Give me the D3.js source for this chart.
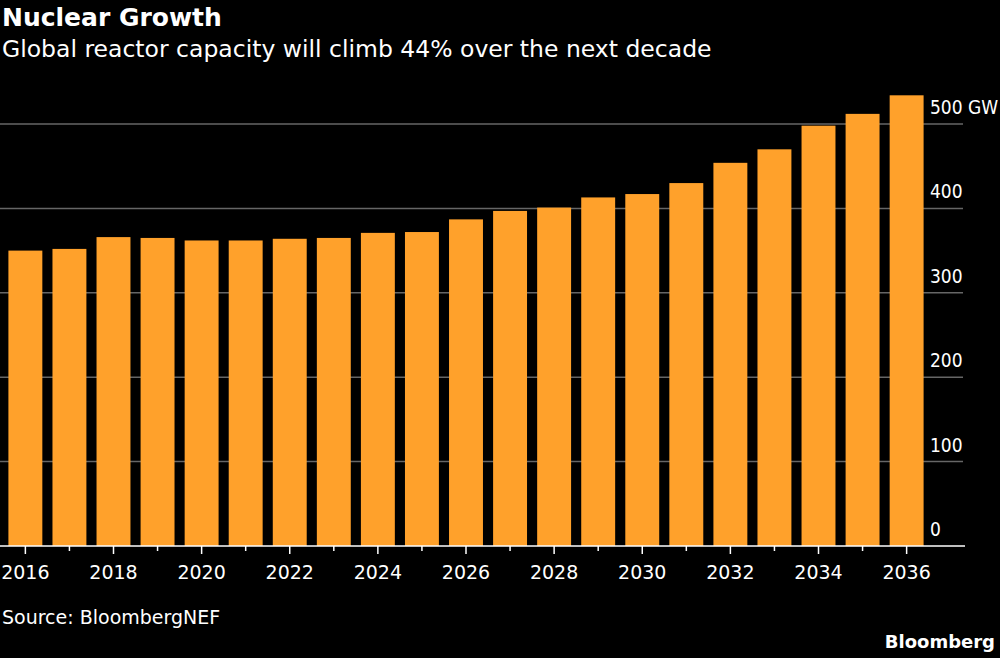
<!DOCTYPE html>
<html><head><meta charset="utf-8">
<script src="https://cdn.jsdelivr.net/npm/d3@7"></script>
<style>
body{margin:0;background:#000;}
text{font-family:"DejaVu Sans",sans-serif;fill:#fff;}
text.ylab{font-family:"DejaVu Sans Condensed","DejaVu Sans",sans-serif;}
</style></head>
<body>
<script>
const years = d3.range(2016, 2037);
const capacity = [350, 352, 366, 365, 362, 362, 364, 365, 371, 372, 387, 397, 401, 413, 417, 430, 454, 470, 498, 512, 534];
const yTicks = [0, 100, 200, 300, 400, 500];

const W = 1000, H = 658;
const svg = d3.select('body').append('svg').attr('width', W).attr('height', H);
svg.append('rect').attr('width', W).attr('height', H).attr('fill', '#000');

const x = d3.scaleBand().domain(years).range([4, 928]).paddingInner(0.23).paddingOuter(0.1);
const y = d3.scaleLinear().domain([0, 500]).range([546, 124]);

// gridlines
svg.selectAll('.grid').data(yTicks.slice(1)).join('line')
  .attr('x1', 0).attr('x2', 963)
  .attr('y1', d => y(d)).attr('y2', d => y(d))
  .attr('stroke', '#666').attr('stroke-width', 1.5);

svg.selectAll('.bar').data(capacity).join('rect')
  .attr('x', (d, i) => x(years[i]))
  .attr('width', x.bandwidth())
  .attr('y', d => y(d))
  .attr('height', d => y(0) - y(d))
  .attr('fill', '#ffa12b');

svg.selectAll('.ylab').data(yTicks).join('text')
  .attr('class', 'ylab')
  .attr('x', 930).attr('y', d => y(d) - 10)
  .attr('font-size', 19)
  .text(d => d === 500 ? '500 GW' : d);

// x axis
svg.append('line').attr('x1', 0).attr('x2', 965).attr('y1', 546).attr('y2', 546)
  .attr('stroke', '#fff').attr('stroke-width', 1.5);
svg.selectAll('.tick').data(years).join('line')
  .attr('x1', d => x(d) + x.bandwidth() / 2).attr('x2', d => x(d) + x.bandwidth() / 2)
  .attr('y1', 546).attr('y2', d => d % 2 === 0 ? 554 : 551)
  .attr('stroke', '#fff').attr('stroke-width', 1.5);
svg.selectAll('.xlab').data(years.filter(d => d % 2 === 0)).join('text')
  .attr('x', d => x(d) + x.bandwidth() / 2).attr('y', 579)
  .attr('text-anchor', 'middle').attr('font-size', 19)
  .text(d => d);

svg.append('text').attr('x', 2).attr('y', 26).attr('font-size', 25).attr('font-weight', 'bold').text('Nuclear Growth');
svg.append('text').attr('x', 2).attr('y', 57).attr('font-size', 23.5).text('Global reactor capacity will climb 44% over the next decade');
svg.append('text').attr('x', 2).attr('y', 624).attr('font-size', 19).text('Source: BloombergNEF');
svg.append('text').attr('x', 995).attr('y', 648).attr('text-anchor', 'end').attr('font-size', 18).attr('font-weight', 'bold').text('Bloomberg');
</script>
</body></html>
